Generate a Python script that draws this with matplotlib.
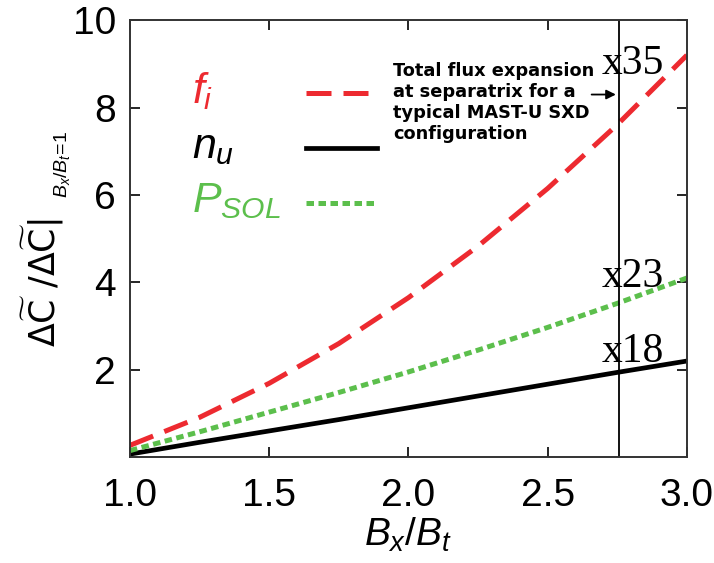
import numpy as np
import matplotlib
matplotlib.use('Agg')
import matplotlib.pyplot as plt

plt.rcParams['font.family'] = ['Liberation Sans', 'DejaVu Sans']
plt.rcParams['mathtext.fontset'] = 'custom'
plt.rcParams['mathtext.rm'] = 'Liberation Sans'
plt.rcParams['mathtext.it'] = 'Liberation Sans:italic'
plt.rcParams['mathtext.bf'] = 'Liberation Sans:bold'

# Dados
bx_bt = [1.0, 1.25, 1.5, 1.75, 2.0, 2.25, 2.5, 2.75, 3.0]
f_i = [0.27, 0.91, 1.69, 2.60, 3.65, 4.83, 6.15, 7.61, 9.2]
n_u = [0.07, 0.34, 0.6, 0.86, 1.13, 1.4, 1.67, 1.94, 2.2]
p_sol = [0.15, 0.58, 1.03, 1.48, 1.95, 2.45, 2.97, 3.52, 4.1]

rotulos = ['$f_i$', '$n_u$', '$P_{SOL}$']
rotulo_y = [0.810, 0.684, 0.561]

x_sxd = 2.755
factores = ['x35', 'x23', 'x18']
factor_y = [8.76, 3.89, 2.17]
nota = "Total flux expansion\nat separatrix for a\ntypical MAST-U SXD\nconfiguration"

vermelho = '#ed2a30'
verde = '#5cbf4c'
cores = [vermelho, 'black', verde]

fig = plt.figure(figsize=(7.14, 5.63), dpi=100)
ax = fig.add_axes([0.182, 0.188, 0.780, 0.776])

ax.plot(bx_bt, f_i, color=vermelho, lw=3.6, dashes=(5, 2.4), label=rotulos[0])
ax.plot(bx_bt, n_u, color='black', lw=3.4, label=rotulos[1])
ax.plot(bx_bt, p_sol, color=verde, lw=3.6, dashes=(1.5, 0.9), label=rotulos[2])

ax.axvline(x_sxd, color='black', lw=1.3)

for txt, yy in zip(factores, factor_y):
    ax.text(2.695, yy, txt, fontsize=30, family='Liberation Serif', va='baseline', ha='left')

ax.text(0.473, 0.905, nota, transform=ax.transAxes, fontsize=12.8, family='DejaVu Sans',
        weight='bold', va='top', ha='left', linespacing=1.22)
ax.annotate('', xy=(x_sxd, 8.3), xytext=(2.648, 8.3),
            arrowprops=dict(arrowstyle='-|>', color='black', lw=1.3, mutation_scale=14))

ax.set_xlim(1.0, 3.0)
ax.set_ylim(0, 10)
ax.set_xticks([1.0, 1.5, 2.0, 2.5, 3.0])
ax.set_xticklabels(['1.0', '1.5', '2.0', '2.5', '3.0'])
ax.set_yticks([2, 4, 6, 8, 10])
ax.tick_params(direction='in', length=7, width=1.2, labelsize=28, top=True, right=True, pad=10)
ax.tick_params(axis='x', pad=15)
for s in ax.spines.values():
    s.set_linewidth(1.4)
    s.set_color('#333333')

ax.set_xlabel('$B_x/B_t$', fontsize=28, labelpad=1)

# rotulo do eixo y em duas partes (subscrito menor, como no original)
fig.text(56 / 714, 1 - 347 / 563, r'$\Delta\widetilde{\mathrm{C}}\ /\Delta\widetilde{\mathrm{C}}|$',
         fontsize=25, math_fontfamily='dejavusans',
         rotation=90, rotation_mode='anchor', ha='left', va='baseline')
fig.text(67 / 714, 1 - 198 / 563, '$B_x/B_t\\!=\\!1$', fontsize=14,
         rotation=90, rotation_mode='anchor', ha='left', va='baseline')

# legenda: linhas pela legenda, textos alinhados a esquerda a parte
leg = ax.legend(loc='upper right', bbox_to_anchor=(0.4434, 0.876), markerfirst=False, frameon=False,
                fontsize=30, handlelength=1.7, handletextpad=0.3, labelspacing=0.36,
                borderaxespad=0, borderpad=0)
for t in leg.get_texts():
    t.set_alpha(0)
for txt, yy, c in zip(rotulos, rotulo_y, cores):
    ax.text(0.111, yy, txt, transform=ax.transAxes, fontsize=31, color=c, va='baseline', ha='left')

fig.savefig('out.png', dpi=100)
